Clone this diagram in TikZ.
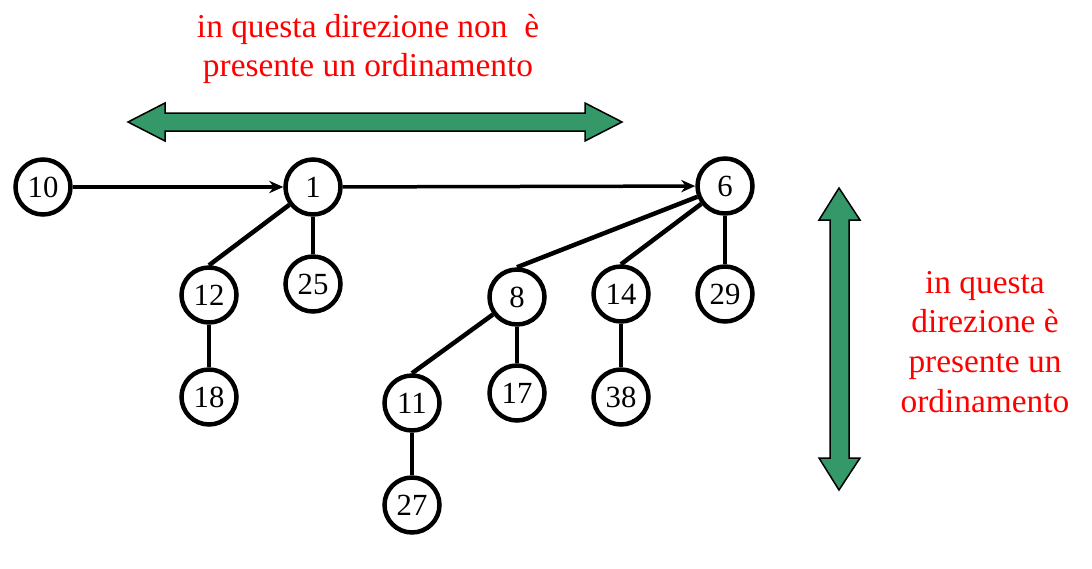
\documentclass[tikz,border=0pt]{standalone}
\usepackage{fontspec}
\newfontfamily\timesfont{Liberation Serif}
\usetikzlibrary{arrows.meta}
\definecolor{arrowgreen}{RGB}{52,152,104}
\begin{document}
\begin{tikzpicture}[x=0.02cm, y=-0.02cm,
    key/.style={circle, draw, line width=0.9mm, minimum size=1.1cm, inner sep=0pt,
        font=\timesfont\fontsize{17.5}{20}\selectfont},
    link/.style={line width=0.9mm},
    root/.style={line width=0.7mm, -{Stealth[length=8pt, width=7pt]}},
    note/.style={text=red, align=center, font=\timesfont\fontsize{19}{22.7}\selectfont},
    bigarrow/.style={draw=black, line width=0.3mm, fill=arrowgreen}]
    \useasboundingbox (0,0) rectangle (1092,568);
    % Roots
    \node[key] (k10) at (43,187) {10};
    \node[key] (k1) at (313,187) {1};
    \node[key] (k6) at (725,186) {6};
    %
    \node[key] (k12) at (209,295) {12};
    \node[key] (k25) at (313,284) {25};
    \node[key] (k18) at (209,397) {18};
    %
    \node[key] (k8) at (517,297) {8};
    \node[key] (k14) at (621,294) {14};
    \node[key] (k29) at (725,294) {29};
    \node[key] (k11) at (412,403) {11};
    \node[key] (k17) at (517,393) {17};
    \node[key] (k38) at (621,397) {38};
    \node[key] (k27) at (412,505) {27};
    % Root list
    \draw[root] (k10) -- (k1);
    \draw[root] (k1) -- (k6);
    % Trees
    \draw[link] (k1) -- (k12.north);
    \draw[link] (k1) -- (k25.north);
    \draw[link] (k12) -- (k18.north);
    %
    \draw[link] (k6) -- (k8.north);
    \draw[link] (k6) -- (k14.north);
    \draw[link] (k6) -- (k29.north);
    \draw[link] (k8) -- (k11.north);
    \draw[link] (k8) -- (k17.north);
    \draw[link] (k14) -- (k38.north);
    \draw[link] (k11) -- (k27.north);
    % Order arrows
    \draw[bigarrow] (128,122) -- (165,103) -- (165,113) -- (585,113) -- (585,103)
        -- (622,122) -- (585,141) -- (585,131) -- (165,131) -- (165,141) -- cycle;
    \draw[bigarrow] (839,188) -- (860,220) -- (849,220) -- (849,458) -- (860,458)
        -- (839,490) -- (819,458) -- (830,458) -- (830,220) -- (819,220) -- cycle;
    % Labels
    \node[note] (nohorder) at (368,49) {in questa direzione non~ è\\presente un ordinamento};
    \node[note] (vorder) at (985,342) {in questa\\direzione è\\presente un\\ordinamento};
\end{tikzpicture}
\end{document}
